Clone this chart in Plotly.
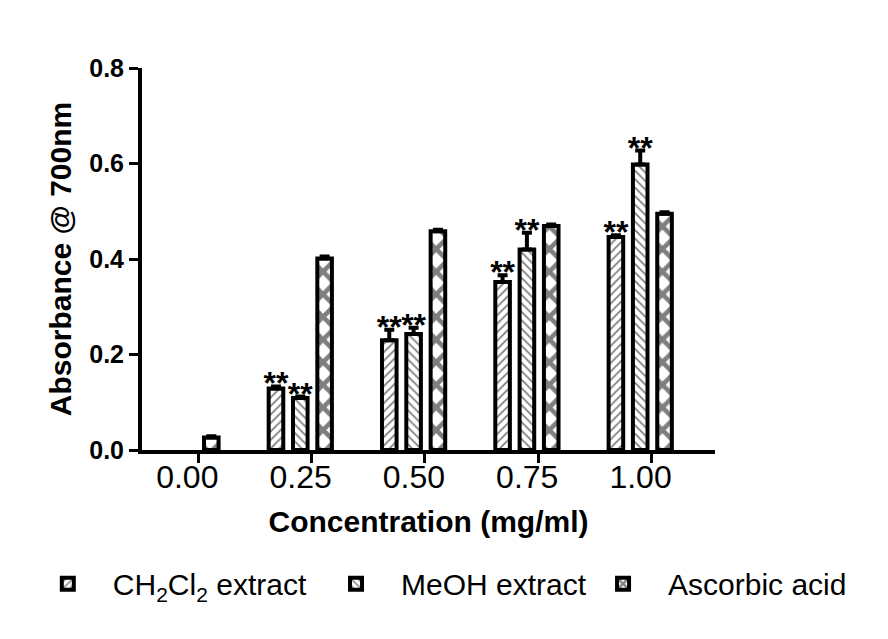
import plotly.graph_objects as go

# data
concentrations = ["0.00", "0.25", "0.50", "0.75", "1.00"]
positions = [0, 1, 2, 3, 4]

ch2cl2 = [None, 0.129, 0.230, 0.352, 0.446]
ch2cl2_err = [0.0, 0.004, 0.022, 0.014, 0.004]
ch2cl2_stars = ["", "**", "**", "**", "**"]

meoh = [None, 0.109, 0.243, 0.420, 0.598]
meoh_err = [0.0, 0.003, 0.013, 0.035, 0.029]
meoh_stars = ["", "**", "**", "**", "**"]

ascorbic = [0.026, 0.401, 0.458, 0.469, 0.495]
ascorbic_err = [0.003, 0.004, 0.003, 0.003, 0.003]
ascorbic_stars = ["", "", "", "", ""]

FONT = "Liberation Sans"

# name, values, errors, stars, hatch, hatch size, solidity, legend id, legend x
series = [
    ("CH<sub>2</sub>Cl<sub>2</sub> extract", ch2cl2, ch2cl2_err, ch2cl2_stars, "/", 6, 0.3, "legend", -0.208),
    ("MeOH extract", meoh, meoh_err, meoh_stars, "\\", 6, 0.3, "legend2", 0.295),
    ("Ascorbic acid", ascorbic, ascorbic_err, ascorbic_stars, "x", 16, 0.5, "legend3", 0.761),
]

fig = go.Figure()

for i, (name, vals, errs, stars, shape, size, solid, leg, lx) in enumerate(series):
    fig.add_trace(go.Bar(
        x=positions, y=vals, name=name, legend=leg,
        offsetgroup=str(i), alignmentgroup="a",
        marker=dict(
            color="white",
            line=dict(color="black", width=4),
            pattern=dict(shape=shape, fgcolor="black", bgcolor="white",
                         size=size, solidity=solid, fillmode="overlay"),
        ),
        error_y=dict(type="data", symmetric=False, array=errs,
                     arrayminus=[0] * len(errs), color="black",
                     thickness=4, width=5),
    ))

# significance stars sit just above each error bar
for i, (name, vals, errs, stars, shape, size, solid, leg, lx) in enumerate(series):
    keep = [j for j, s in enumerate(stars) if s and vals[j] is not None]
    if keep:
        fig.add_trace(go.Scatter(
            x=[positions[j] for j in keep],
            y=[vals[j] + errs[j] for j in keep],
            mode="text", text=[stars[j] for j in keep],
            textposition="middle center",
            textfont=dict(family=FONT, size=32, color="black", weight="bold"),
            offsetgroup=str(i), alignmentgroup="a",
            showlegend=False, hoverinfo="skip", cliponaxis=False,
        ))
    else:
        # placeholder so the star traces keep three slots per group
        fig.add_trace(go.Scatter(
            x=positions, y=vals,
            mode="markers", marker=dict(size=1, opacity=0),
            offsetgroup=str(i), alignmentgroup="a",
            showlegend=False, hoverinfo="skip",
        ))

legend_style = dict(orientation="h", xanchor="left", y=-0.35, yanchor="middle",
                    itemwidth=80, bgcolor="rgba(0,0,0,0)",
                    font=dict(family=FONT, size=30, color="black"))

fig.update_layout(
    width=888, height=639,
    paper_bgcolor="white", plot_bgcolor="white",
    margin=dict(l=134, r=181, t=60, b=197),
    barmode="group", bargap=0.356, bargroupgap=0.4,
    scattermode="group", scattergap=0.356,
    font=dict(family=FONT, color="black"),
    legend=dict(x=series[0][8], **legend_style),
    legend2=dict(x=series[1][8], **legend_style),
    legend3=dict(x=series[2][8], **legend_style),
)

fig.update_xaxes(
    range=[-0.397, 4.66],
    tickvals=[p + 0.1 for p in positions], ticktext=concentrations,
    ticklabelshift=-11, ticklabelstandoff=-13,
    ticks="outside", ticklen=9, tickwidth=3, tickcolor="black",
    tickfont=dict(family=FONT, size=32),
    showline=True, linewidth=4, linecolor="black",
    showgrid=False, zeroline=False,
    title=dict(text="Concentration (mg/ml)",
               font=dict(family=FONT, size=30, weight="bold"), standoff=18),
)

fig.update_yaxes(
    range=[0, 0.8],
    tickvals=[0, 0.2, 0.4, 0.6, 0.8], tickformat=".1f",
    ticks="outside", ticklen=9, tickwidth=3, tickcolor="black",
    tickfont=dict(family=FONT, size=25, weight="bold"),
    showline=True, linewidth=4, linecolor="black",
    showgrid=False, zeroline=False,
    title=dict(text="Absorbance @ 700nm",
               font=dict(family=FONT, size=30, weight="bold"), standoff=10),
)

fig.write_html("out.html")
